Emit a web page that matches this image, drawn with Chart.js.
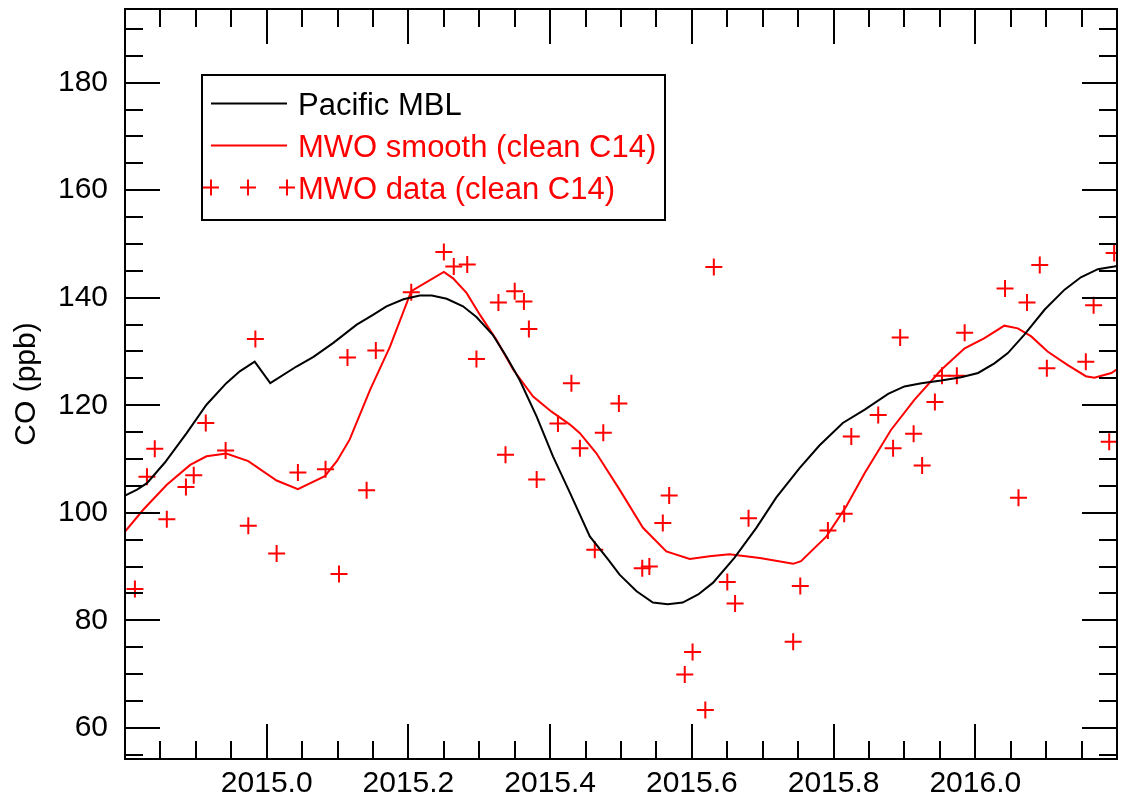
<!DOCTYPE html>
<html>
<head>
<meta charset="utf-8">
<title>CO Pacific MBL vs MWO</title>
<script src="https://cdn.jsdelivr.net/npm/chart.js@4.4.1/dist/chart.umd.min.js"></script>
<style>
  body { margin: 0; background: #fff; }
  #coChart { display: block; }
</style>
</head>
<body>
<canvas id="coChart" width="1121" height="804"></canvas>
<script>

// Pacific MBL reference curve
const mblYear = [2014.800, 2014.817, 2014.831, 2014.856, 2014.887, 2014.915, 2014.943, 2014.962, 2014.983, 2015.005,
  2015.042, 2015.066, 2015.094, 2015.127, 2015.150, 2015.169, 2015.193, 2015.216, 2015.233, 2015.254,
  2015.277, 2015.296, 2015.319, 2015.338, 2015.357, 2015.381, 2015.404, 2015.428, 2015.456, 2015.482,
  2015.498, 2015.522, 2015.545, 2015.566, 2015.587, 2015.609, 2015.630, 2015.660, 2015.691, 2015.719,
  2015.752, 2015.780, 2015.813, 2015.844, 2015.877, 2015.900, 2015.924, 2015.952, 2015.980, 2016.004,
  2016.027, 2016.046, 2016.069, 2016.098, 2016.126, 2016.149, 2016.173, 2016.196, 2016.200];
const mblCO = [103.2, 104.3, 105.5, 109.3, 114.8, 120.1, 124.1, 126.3, 128.1, 124.1,
  127.2, 129.0, 131.6, 135.0, 136.8, 138.4, 139.7, 140.4, 140.4, 139.8,
  138.4, 136.4, 133.1, 129.1, 124.7, 117.9, 110.5, 103.7, 95.6, 91.3,
  88.5, 85.4, 83.3, 83.0, 83.3, 84.8, 87.0, 91.6, 97.2, 102.8,
  108.3, 112.5, 116.7, 119.2, 122.1, 123.5, 124.1, 124.6, 125.2, 126.0,
  127.8, 129.7, 133.1, 137.8, 141.5, 143.8, 145.3, 145.8, 145.9];

// MWO smooth curve
const smoothYear = [2014.800, 2014.826, 2014.859, 2014.892, 2014.915, 2014.943, 2014.974, 2015.014, 2015.044, 2015.082,
  2015.099, 2015.117, 2015.146, 2015.174, 2015.204, 2015.250, 2015.263, 2015.282, 2015.301, 2015.324,
  2015.348, 2015.376, 2015.402, 2015.428, 2015.442, 2015.465, 2015.498, 2015.531, 2015.564, 2015.597,
  2015.625, 2015.653, 2015.696, 2015.743, 2015.754, 2015.790, 2015.818, 2015.844, 2015.881, 2015.914,
  2015.952, 2015.985, 2016.013, 2016.041, 2016.060, 2016.079, 2016.102, 2016.130, 2016.156, 2016.168,
  2016.192, 2016.200];
const smoothCO = [96.5, 100.6, 105.2, 108.9, 110.5, 111.0, 109.6, 106.0, 104.4, 106.8,
  109.6, 113.6, 122.9, 130.9, 141.2, 144.8, 143.6, 140.9, 136.8, 132.2,
  126.6, 121.6, 118.8, 116.4, 114.8, 111.1, 104.3, 97.2, 92.8, 91.4,
  91.9, 92.3, 91.6, 90.5, 91.0, 95.6, 101.2, 107.4, 115.4, 121.0,
  126.6, 130.6, 132.5, 134.8, 134.3, 132.8, 130.0, 127.5, 125.4, 125.1,
  126.0, 126.7];

// MWO samples
const dataYear = [2014.814, 2014.831, 2014.842, 2014.859, 2014.886, 2014.897, 2014.914, 2014.942, 2014.974, 2014.984,
  2015.014, 2015.044, 2015.083, 2015.102, 2015.114, 2015.141, 2015.154, 2015.204, 2015.250, 2015.264,
  2015.283, 2015.296, 2015.327, 2015.337, 2015.350, 2015.363, 2015.370, 2015.381, 2015.411, 2015.430,
  2015.442, 2015.463, 2015.475, 2015.497, 2015.530, 2015.540, 2015.559, 2015.568, 2015.590, 2015.601,
  2015.619, 2015.631, 2015.650, 2015.661, 2015.680, 2015.743, 2015.753, 2015.792, 2015.815, 2015.825,
  2015.863, 2015.884, 2015.894, 2015.913, 2015.925, 2015.943, 2015.953, 2015.974, 2015.985, 2016.042,
  2016.061, 2016.073, 2016.091, 2016.101, 2016.156, 2016.167, 2016.189, 2016.196];
const dataCO = [85.8, 106.7, 111.9, 98.8, 104.8, 107.0, 116.7, 111.6, 97.6, 132.3,
  92.4, 107.5, 108.1, 88.6, 128.9, 104.2, 130.2, 141.0, 148.5, 145.8,
  146.2, 128.6, 139.1, 110.8, 141.2, 139.3, 134.2, 106.2, 116.6, 124.1,
  112.0, 93.1, 114.9, 120.3, 89.7, 90.0, 98.1, 103.2, 69.9, 74.1,
  63.3, 145.7, 87.1, 83.1, 99.0, 76.0, 86.4, 96.7, 99.8, 114.2,
  118.2, 112.0, 132.6, 114.7, 108.8, 120.6, 125.5, 125.5, 133.5, 141.7,
  102.8, 139.1, 146.1, 126.9, 128.1, 138.6, 113.2, 148.3];

const xTickLabels = [2015.0, 2015.2, 2015.4, 2015.6, 2015.8, 2016.0];
const yTickLabels = [60, 80, 100, 120, 140, 160, 180];
const legendLabels = ['Pacific MBL', 'MWO smooth (clean C14)', 'MWO data (clean C14)'];

const FONT = '"Liberation Sans", Arial, Helvetica, sans-serif';
const RED = '#ff0000';

const toPoints = (xs, ys) => xs.map((x, i) => ({ x: x, y: ys[i] }));

// kill the auto label padding so the plot box fills the canvas like the original
const noPad = s => { s.paddingLeft = 0; s.paddingRight = 0; s.paddingTop = 0; s.paddingBottom = 0; };

// frame + inward ticks on all four sides
const frameTicks = {
  id: 'frameTicks',
  afterDatasetsDraw(chart) {
    const { ctx, chartArea: { left, right, top, bottom }, scales: { x, y } } = chart;
    ctx.save();
    ctx.strokeStyle = '#000';
    ctx.lineWidth = 2;
    ctx.strokeRect(left, top, right - left, bottom - top);

    ctx.beginPath();
    for (let i = 0; i <= 28; i++) {
      const v = x.min + i * 0.05;
      if (v <= x.min + 1e-6 || v >= x.max - 1e-6) continue;
      const major = xTickLabels.some(t => Math.abs(t - v) < 1e-6);
      const len = major ? 35 : 18;
      const px = Math.round(x.getPixelForValue(v));
      ctx.moveTo(px, bottom); ctx.lineTo(px, bottom - len);
      ctx.moveTo(px, top); ctx.lineTo(px, top + len);
    }
    for (let v = 55; v <= 190; v += 5) {
      const major = yTickLabels.includes(v);
      const len = major ? 35 : 18;
      const py = Math.round(y.getPixelForValue(v));
      ctx.moveTo(left, py); ctx.lineTo(left + len, py);
      ctx.moveTo(right, py); ctx.lineTo(right - len, py);
    }
    ctx.stroke();
    ctx.restore();
  }
};

// boxed legend, top left
const boxLegend = {
  id: 'boxLegend',
  afterDraw(chart) {
    const ctx = chart.ctx;
    ctx.save();
    ctx.fillStyle = '#fff';
    ctx.fillRect(202, 75, 463, 145);
    ctx.strokeStyle = '#000';
    ctx.lineWidth = 2;
    ctx.strokeRect(202, 75, 463, 145);

    ctx.font = '31px ' + FONT;
    ctx.textBaseline = 'alphabetic';
    const colors = ['#000', RED, RED];
    const baselines = [114.5, 156.5, 198.5];
    legendLabels.forEach((l, i) => {
      const mid = baselines[i] - 11;
      ctx.strokeStyle = colors[i];
      ctx.lineWidth = 2;
      ctx.beginPath();
      if (i < 2) {
        ctx.moveTo(211, mid); ctx.lineTo(287, mid);
      } else {
        [211, 248, 287].forEach(cx => {
          ctx.moveTo(cx - 8, mid); ctx.lineTo(cx + 8, mid);
          ctx.moveTo(cx, mid - 8); ctx.lineTo(cx, mid + 8);
        });
      }
      ctx.stroke();
      ctx.fillStyle = colors[i];
      ctx.fillText(l, 298, baselines[i]);
    });
    ctx.restore();
  }
};

new Chart(document.getElementById('coChart'), {
  type: 'scatter',
  data: {
    datasets: [
      {
        label: legendLabels[0],
        data: toPoints(mblYear, mblCO),
        showLine: true,
        borderColor: '#000',
        borderWidth: 2,
        pointRadius: 0,
        tension: 0
      },
      {
        label: legendLabels[1],
        data: toPoints(smoothYear, smoothCO),
        showLine: true,
        borderColor: RED,
        borderWidth: 2,
        pointRadius: 0,
        tension: 0
      },
      {
        label: legendLabels[2],
        data: toPoints(dataYear, dataCO),
        showLine: false,
        pointStyle: 'cross',
        pointRadius: 8.5,
        pointBorderWidth: 2,
        borderColor: RED,
        backgroundColor: RED
      }
    ]
  },
  options: {
    responsive: false,
    animation: false,
    devicePixelRatio: 1,
    // no auto padding for the point radius, plot box runs to x=1117
    layout: { autoPadding: false, padding: { left: 0, top: 9, right: 4, bottom: 0 } },
    plugins: {
      legend: { display: false },
      tooltip: { enabled: false }
    },
    scales: {
      x: {
        type: 'linear',
        min: 2014.8,
        max: 2016.2,
        afterBuildTicks: s => { s.ticks = xTickLabels.map(v => ({ value: v })); },
        afterFit: s => { s.height = 45; noPad(s); },
        grid: { display: false, drawTicks: false },
        border: { display: false },
        ticks: {
          color: '#000',
          font: { family: FONT, size: 30 },
          padding: 7,
          maxRotation: 0,
          autoSkip: false,
          callback: v => v.toFixed(1)
        }
      },
      y: {
        type: 'linear',
        min: 54.2,
        max: 193.7,
        afterBuildTicks: s => { s.ticks = yTickLabels.map(v => ({ value: v })); },
        afterFit: s => { s.width = 125; noPad(s); },
        grid: { display: false, drawTicks: false },
        border: { display: false },
        ticks: {
          color: '#000',
          font: { family: FONT, size: 30 },
          padding: 17,
          autoSkip: false
        },
        title: {
          display: true,
          text: 'CO (ppb)',
          color: '#000',
          font: { family: FONT, size: 30 },
          padding: { top: 9, bottom: 0 }
        }
      }
    }
  },
  plugins: [frameTicks, boxLegend]
});

</script>
</body>
</html>
